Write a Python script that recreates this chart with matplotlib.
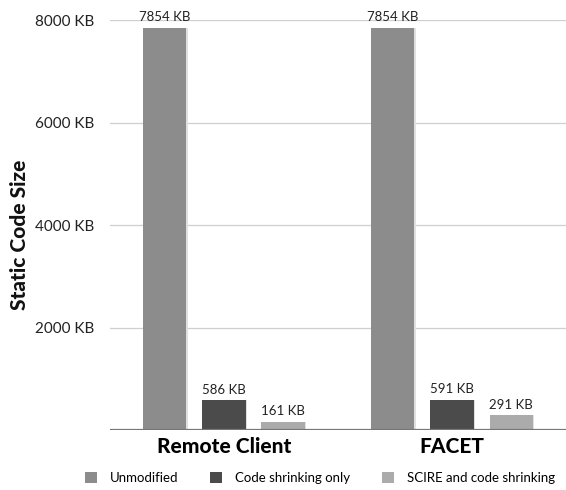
import numpy as np
import matplotlib.pyplot as plt

plt.rcParams['font.family'] = ['Lato', 'DejaVu Sans']

groups = ["Remote Client", "FACET"]
series = ["Unmodified", "Code shrinking only", "SCIRE and code shrinking"]
sizes_kb = [
    [7854, 7854],   # Unmodified
    [586, 591],     # Code shrinking only
    [161, 291],     # SCIRE and code shrinking
]
colors = ["#8c8c8c", "#4b4b4b", "#ababab"]
yticks = [2000, 4000, 6000, 8000]

fig = plt.figure(figsize=(5.66, 4.9), dpi=100)
ax = fig.add_axes([0.194, 0.122, 0.806, 0.837])

x = np.arange(len(groups))
step = 0.26
width = 0.19
for i, (name, vals, c) in enumerate(zip(series, sizes_kb, colors)):
    pos = x + (i - 1) * step
    # soft drop shadow behind each bar
    ax.bar(pos + 0.006, vals, width, color="#e0e0e0", zorder=2)
    bars = ax.bar(pos, vals, width, color=c, label=name, zorder=3)
    for b, v in zip(bars, vals):
        ax.text(b.get_x() + b.get_width() / 2, v + 90, f"{v} KB",
                ha="center", va="bottom", fontsize=9.5, color="#222222")

ax.set_xlim(-0.5, 1.5)
ax.set_ylim(0, 8000)
ax.set_yticks(yticks)
ax.set_yticklabels([f"{t} KB" for t in yticks], fontsize=11, color="#222222")
ax.tick_params(axis="y", length=0, pad=11)
ax.set_xticks(x)
ax.set_xticklabels(groups, fontsize=15, fontweight="black")
ax.tick_params(axis="x", length=0, pad=5)

ax.grid(axis="y", color="#cfcfcf", linewidth=0.9, zorder=0)
ax.axhline(0, color="#777777", linewidth=1.6, zorder=4)
for s in ax.spines.values():
    s.set_visible(False)

fig.text(0.034, 0.52, "Static Code Size", rotation=90, ha="center", va="center",
         fontsize=15, fontweight="black", color="#111111")

fig.legend(loc="center", bbox_to_anchor=(0.565, 0.025), ncol=3, frameon=False,
           fontsize=9.5, handlelength=0.9, handleheight=0.9, columnspacing=2.4,
           handletextpad=1.0)

fig.savefig("out.png", dpi=100)
